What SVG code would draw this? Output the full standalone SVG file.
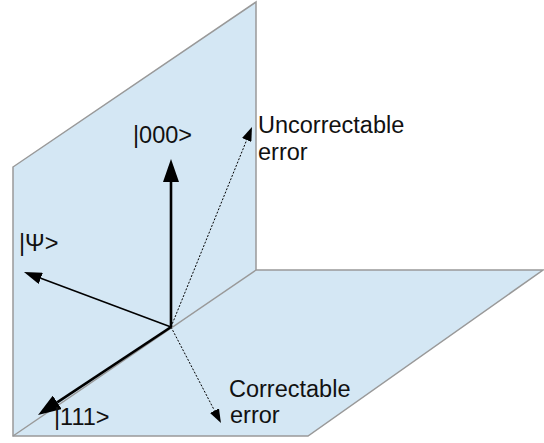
<svg xmlns="http://www.w3.org/2000/svg" width="544" height="443" viewBox="0 0 544 443">
<style>
.plane{fill:#d4e7f4;stroke:#999;stroke-width:1.5;stroke-linejoin:miter}
.edge{fill:none;stroke:#999;stroke-width:1.5}
.lbl{font-family:"Liberation Sans",Arial,sans-serif;font-size:23.5px;fill:#111}
.vec{stroke:#000;fill:none}
.thick{stroke-width:2.6}
.thin{stroke-width:1.5}
.dot{stroke-width:1;stroke-dasharray:2 1.6}
</style>
<defs>
<marker id="big" markerUnits="userSpaceOnUse" viewBox="0 0 23 16" refX="0" refY="8" markerWidth="23" markerHeight="16" orient="auto"><path d="M0,0 L23,8 L0,16 Z" fill="#000"/></marker>
<marker id="mid" markerUnits="userSpaceOnUse" viewBox="0 0 18 12" refX="0" refY="6" markerWidth="18" markerHeight="12" orient="auto"><path d="M0,0 L18,6 L0,12 Z" fill="#000"/></marker>
<marker id="small" markerUnits="userSpaceOnUse" viewBox="0 0 14 10" refX="0" refY="5" markerWidth="14" markerHeight="10" orient="auto"><path d="M0,0 L14,5 L0,10 Z" fill="#000"/></marker>
</defs>
<g id="planes">
<polygon class="plane" points="13,167 256,2 256,270 543,270 308,436 13,436"/>
<line class="edge" x1="256" y1="270" x2="13" y2="436"/>
</g>
<g id="connectors">
<line class="vec thick" x1="171" y1="327" x2="171" y2="182" marker-end="url(#big)"/>
<line class="vec thick" x1="171" y1="327" x2="57.2" y2="402.3" marker-end="url(#big)"/>
<line class="vec thin" x1="171" y1="327" x2="40.8" y2="278.3" marker-end="url(#mid)"/>
<line class="vec dot" x1="171" y1="327" x2="246.7" y2="140" marker-end="url(#small)"/>
<line class="vec dot" x1="171" y1="327" x2="214.5" y2="410.6" marker-end="url(#small)"/>
</g>
<g id="label-000"><text class="lbl" x="133" y="143">|000&gt;</text></g>
<g id="label-uncorrectable"><text class="lbl" x="258" y="133">Uncorrectable</text><text class="lbl" x="258" y="160">error</text></g>
<g id="label-psi"><text class="lbl" x="19" y="251">|Ψ&gt;</text></g>
<g id="label-correctable"><text class="lbl" x="229" y="397">Correctable</text><text class="lbl" x="230" y="423">error</text></g>
<g id="label-111"><text class="lbl" x="54" y="425">|111&gt;</text></g>
</svg>
